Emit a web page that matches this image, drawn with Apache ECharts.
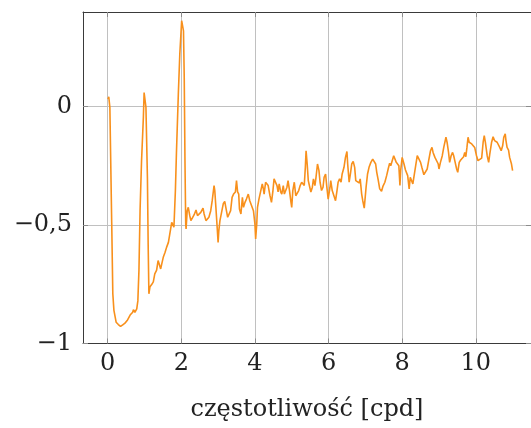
<!DOCTYPE html>
<html>
<head>
<meta charset="utf-8">
<script src="https://cdn.jsdelivr.net/npm/echarts@6/dist/echarts.min.js"></script>
<style>
  html,body{margin:0;padding:0;background:#fff}
  #chart{width:531px;height:428px}
</style>
</head>
<body>
<div id="chart"></div>
<script>
  // czestotliwosc [cpd]
  var freq = [
    0.01,0.03,0.06,0.11,0.14,0.17,0.23,0.29,0.35,0.41,0.47,0.53,0.61,0.68,0.70,0.74,0.79,0.82,0.85,0.88,
    0.92,0.97,0.99,1.01,1.04,1.08,1.10,1.12,1.15,1.20,1.24,1.28,1.33,1.37,1.40,1.44,1.47,1.51,1.56,1.60,
    1.65,1.69,1.74,1.77,1.80,1.84,1.87,1.92,1.96,2.01,2.04,2.06,2.08,2.10,2.12,2.13,2.16,2.19,2.23,2.26,
    2.31,2.35,2.40,2.44,2.49,2.53,2.59,2.62,2.67,2.70,2.75,2.80,2.84,2.89,2.91,2.94,2.98,3.00,3.02,3.05,
    3.10,3.14,3.18,3.21,3.26,3.29,3.34,3.38,3.42,3.47,3.50,3.53,3.56,3.58,3.62,3.66,3.69,3.73,3.77,3.82,
    3.86,3.91,3.96,4.00,4.02,4.05,4.07,4.11,4.15,4.20,4.23,4.25,4.29,4.33,4.36,4.41,4.45,4.49,4.52,4.56,
    4.60,4.63,4.66,4.70,4.73,4.77,4.80,4.83,4.87,4.90,4.94,4.98,5.00,5.03,5.07,5.11,5.15,5.19,5.23,5.27,
    5.30,5.34,5.37,5.39,5.42,5.45,5.49,5.52,5.56,5.59,5.63,5.66,5.70,5.74,5.77,5.81,5.85,5.88,5.92,5.95,
    5.99,6.04,6.06,6.10,6.14,6.19,6.23,6.26,6.30,6.34,6.37,6.42,6.46,6.50,6.52,6.56,6.60,6.63,6.67,6.71,
    6.74,6.79,6.83,6.86,6.90,6.93,6.97,6.99,7.02,7.06,7.10,7.15,7.20,7.24,7.28,7.31,7.35,7.39,7.44,7.48,
    7.53,7.58,7.62,7.66,7.69,7.73,7.77,7.80,7.84,7.87,7.91,7.94,7.96,8.00,8.05,8.09,8.12,8.15,8.19,8.22,
    8.25,8.29,8.33,8.36,8.41,8.45,8.50,8.54,8.59,8.63,8.68,8.72,8.77,8.81,8.84,8.89,8.93,8.98,9.00,9.04,
    9.09,9.13,9.19,9.22,9.26,9.29,9.33,9.37,9.40,9.44,9.48,9.51,9.55,9.59,9.63,9.67,9.70,9.73,9.76,9.79,
    9.82,9.86,9.89,9.93,9.97,10.02,10.06,10.11,10.16,10.20,10.23,10.26,10.31,10.35,10.38,10.43,10.47,10.51,10.54,10.58,
    10.62,10.65,10.69,10.73,10.76,10.80,10.82,10.85,10.89,10.92,10.97,11.00
  ];
  var amp = [
    0.032,0.042,-0.003,-0.49,-0.79,-0.86,-0.91,-0.92,-0.928,-0.921,-0.914,-0.903,-0.88,-0.868,-0.857,-0.868,-0.854,-0.82,-0.69,-0.44,
    -0.23,-0.045,0.06,0.068,-0.003,-0.30,-0.58,-0.79,-0.76,-0.75,-0.74,-0.706,-0.69,-0.65,-0.664,-0.685,-0.664,-0.636,-0.615,-0.594,
    -0.573,-0.565,-0.488,-0.48,-0.509,-0.354,-0.186,0.055,0.224,0.363,0.37,0.32,0.124,-0.228,-0.495,-0.516,-0.44,-0.425,-0.46,-0.481,
    -0.467,-0.456,-0.436,-0.46,-0.467,-0.446,-0.428,-0.453,-0.481,-0.488,-0.467,-0.439,-0.397,-0.333,-0.354,-0.425,-0.523,-0.573,-0.523,-0.481,
    -0.474,-0.41,-0.40,-0.425,-0.467,-0.474,-0.439,-0.383,-0.369,-0.36,-0.312,-0.36,-0.369,-0.432,-0.453,-0.383,-0.425,-0.404,-0.39,-0.369,
    -0.397,-0.418,-0.439,-0.495,-0.558,-0.495,-0.425,-0.39,-0.383,-0.326,-0.347,-0.369,-0.319,-0.312,-0.333,-0.376,-0.404,-0.354,-0.305,-0.305,
    -0.333,-0.36,-0.326,-0.36,-0.369,-0.333,-0.369,-0.376,-0.34,-0.312,-0.354,-0.404,-0.425,-0.354,-0.319,-0.376,-0.369,-0.354,-0.333,-0.319,
    -0.319,-0.333,-0.256,-0.186,-0.242,-0.312,-0.34,-0.36,-0.34,-0.305,-0.333,-0.298,-0.242,-0.27,-0.319,-0.354,-0.34,-0.298,-0.284,-0.333,
    -0.39,-0.34,-0.312,-0.354,-0.36,-0.397,-0.354,-0.319,-0.305,-0.319,-0.284,-0.256,-0.214,-0.189,-0.242,-0.319,-0.277,-0.242,-0.231,-0.256,
    -0.312,-0.319,-0.322,-0.305,-0.369,-0.397,-0.428,-0.425,-0.34,-0.284,-0.256,-0.235,-0.221,-0.221,-0.242,-0.277,-0.31,-0.347,-0.357,-0.335,
    -0.319,-0.29,-0.263,-0.239,-0.249,-0.242,-0.207,-0.214,-0.235,-0.235,-0.249,-0.333,-0.27,-0.214,-0.242,-0.267,-0.263,-0.291,-0.347,-0.298,
    -0.305,-0.326,-0.319,-0.256,-0.207,-0.214,-0.235,-0.259,-0.287,-0.291,-0.263,-0.228,-0.186,-0.172,-0.193,-0.214,-0.217,-0.242,-0.263,-0.235,
    -0.207,-0.172,-0.129,-0.15,-0.193,-0.235,-0.207,-0.193,-0.207,-0.235,-0.263,-0.277,-0.235,-0.225,-0.225,-0.211,-0.193,-0.211,-0.172,-0.129,
    -0.15,-0.15,-0.157,-0.165,-0.172,-0.207,-0.228,-0.228,-0.217,-0.15,-0.122,-0.15,-0.207,-0.235,-0.20,-0.15,-0.127,-0.143,-0.15,-0.15,
    -0.157,-0.172,-0.186,-0.165,-0.129,-0.115,-0.143,-0.172,-0.183,-0.214,-0.242,-0.27
  ];
  var xTicks = [0, 2, 4, 6, 8, 10];
  var yTicks = [-1, -0.5, 0];

  var chart = echarts.init(document.getElementById('chart'));

  var points = freq.map(function(f, i){ return [f, amp[i]]; });
  var fmt = function(v){ return String(v).replace('.', ',').replace('-', '\u2212'); };
  var font = 'DejaVu Serif';
  var frameColor = '#3a3a3a';
  var tickColor = '#8c8c8c';
  var gridColor = '#c0c0c0';

  function xAxisOf(pos, main){
    return {
      type:'value', position:pos, min:-0.67, max:11.5,
      axisLine:{show:true, onZero:false, lineStyle:{color:frameColor, width:1}},
      axisTick:{show:true, inside:true, length:5, customValues:xTicks, lineStyle:{color:tickColor}},
      axisLabel:{show:main, customValues:xTicks, margin:8, formatter:fmt,
        fontFamily:font, fontSize:24, color:'#222'},
      splitLine:{show:main, lineStyle:{color:gridColor, width:1}},
      name: main ? 'częstotliwość [cpd]' : '',
      nameLocation:'middle', nameGap:54,
      nameTextStyle:{fontFamily:font, fontSize:24, color:'#222'}
    };
  }
  function yAxisOf(pos, main){
    return {
      type:'value', position:pos, min:-1, max:0.4,
      axisLine:{show:true, onZero:false, lineStyle:{color:frameColor, width:1}},
      axisTick:{show:true, inside:true, length:5, customValues:yTicks, lineStyle:{color:tickColor}},
      axisLabel:{show:main, customValues:yTicks, margin:11, formatter:fmt,
        fontFamily:font, fontSize:24, color:'#222'},
      splitLine:{show:main, lineStyle:{color:gridColor, width:1}}
    };
  }

  chart.setOption({
    animation:false,
    grid:{left:83, top:12, right:0, bottom:84.5, containLabel:false},
    xAxis:[xAxisOf('bottom', true), xAxisOf('top', false)],
    yAxis:[yAxisOf('left', true), yAxisOf('right', false)],
    series:[{
      type:'line',
      data:points,
      showSymbol:false,
      clip:true,
      lineStyle:{color:'#f8901c', width:1.6},
      itemStyle:{color:'#f8901c'}
    }]
  });
</script>
</body>
</html>
